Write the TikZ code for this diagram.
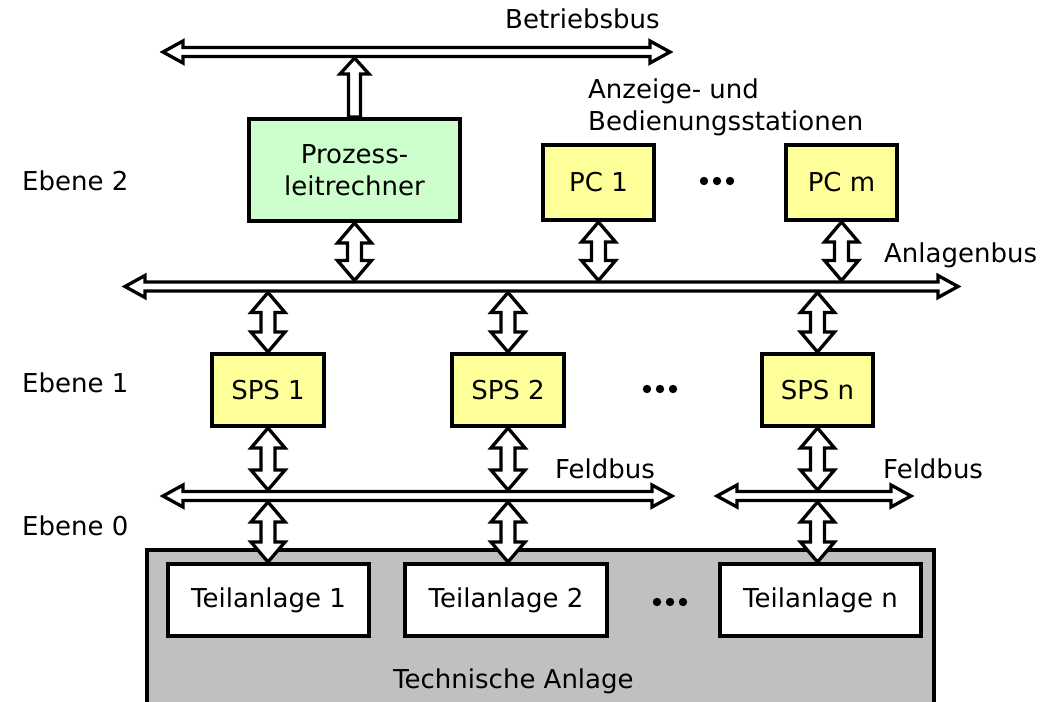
\documentclass[tikz,border=0pt]{standalone}
\usepackage{fontspec}
\setmainfont{DejaVu Sans}
\usetikzlibrary{calc}
\definecolor{plrgreen}{HTML}{CCFFCC}
\definecolor{spsyellow}{HTML}{FFFF99}
\definecolor{anlagegray}{HTML}{C0C0C0}
% hollow bus arrow, heads at both ends
\newcommand{\hbus}[2]{%
  \draw[hollow] let \p1=(#1), \p2=(#2) in
    (\x1,\y1) -- (\x1+20pt,\y1+11pt) -- (\x1+20pt,\y1+4.5pt)
    -- (\x2-20pt,\y1+4.5pt) -- (\x2-20pt,\y1+11pt) -- (\x2,\y1)
    -- (\x2-20pt,\y1-11pt) -- (\x2-20pt,\y1-4.5pt)
    -- (\x1+20pt,\y1-4.5pt) -- (\x1+20pt,\y1-11pt) -- cycle;}
% hollow vertical link, #1 above #2
\newcommand{\dlink}[2]{%
  \draw[hollow] let \p1=(#1), \p2=(#2) in
    (\x1,\y1) -- (\x1+17pt,\y1-20pt) -- (\x1+7pt,\y1-20pt)
    -- (\x1+7pt,\y2+20pt) -- (\x1+17pt,\y2+20pt) -- (\x1,\y2)
    -- (\x1-17pt,\y2+20pt) -- (\x1-7pt,\y2+20pt)
    -- (\x1-7pt,\y1-20pt) -- (\x1-17pt,\y1-20pt) -- cycle;}
% hollow link with one head, from #1 up to #2
\newcommand{\ulink}[2]{%
  \draw[hollow] let \p1=(#1), \p2=(#2) in
    (\x1-6pt,\y1) -- (\x1-6pt,\y2-16pt) -- (\x1-14.5pt,\y2-16pt) -- (\x1,\y2)
    -- (\x1+14.5pt,\y2-16pt) -- (\x1+6pt,\y2-16pt) -- (\x1+6pt,\y1) -- cycle;}
\begin{document}
\begin{tikzpicture}[x=1pt,y=-1pt,line join=miter,
    every node/.style={font=\fontsize{26}{32}\selectfont},
    box/.style={draw,line width=4pt,inner sep=0pt,align=center},
    hollow/.style={draw,fill=white,line width=3.3pt},
    lbl/.style={inner sep=0pt}]
    \useasboundingbox (0,0) rectangle (1056,701);
    % Technische Anlage
    \node[box,fill=anlagegray,anchor=north west,minimum width=787,
      minimum height=170] (anlage) at (145,548) {};
    \node[box,fill=white,minimum width=201,minimum height=72] (ta1) at (268.5,600) {Teilanlage 1};
    \node[box,fill=white,minimum width=202,minimum height=72] (ta2) at (506,600) {Teilanlage 2};
    \node[box,fill=white,minimum width=201,minimum height=72] (tan) at (820.5,600) {Teilanlage n};
    \node[lbl,anchor=base west] (ltechnik) at (393,688) {Technische Anlage};
    % Ebene 1 und 2
    \node[box,fill=plrgreen,minimum width=211,minimum height=102] (plr) at (354.5,170) {Prozess-\\leitrechner};
    \node[box,fill=spsyellow,minimum width=111,minimum height=75] (pc1) at (598.5,182.5) {PC 1};
    \node[box,fill=spsyellow,minimum width=111,minimum height=75] (pcm) at (841.5,182.5) {PC m};
    \node[box,fill=spsyellow,minimum width=111.5,minimum height=72] (sps1) at (268,390) {SPS 1};
    \node[box,fill=spsyellow,minimum width=111.5,minimum height=72] (sps2) at (508,390) {SPS 2};
    \node[box,fill=spsyellow,minimum width=111,minimum height=72] (spsn) at (817.5,390) {SPS n};
    % labels
    \node[lbl,anchor=base west] (lebene2) at (22,190) {Ebene 2};
    \node[lbl,anchor=base west] (lebene1) at (22,392) {Ebene 1};
    \node[lbl,anchor=base west] (lebene0) at (22,535) {Ebene 0};
    \node[lbl,anchor=base west] (lbetrieb) at (505,29) {Betriebsbus};
    \node[lbl,anchor=base west] (lanlagen) at (884,262) {Anlagenbus};
    \node[lbl,anchor=base east] (lfeld1) at (655,478) {Feldbus};
    \node[lbl,anchor=base west] (lfeld2) at (883,478) {Feldbus};
    \node[lbl,anchor=north west,align=left] (lstation) at (588,79) {Anzeige- und\\Bedienungsstationen};
    \foreach \cx/\cy in {717/181,660/389,670/602}
      \foreach \i in {0,1,2}
        \fill (\cx-13+13*\i,\cy) circle (4.2pt);
    % buses
    \coordinate (bb-w) at (163,52);   \coordinate (bb-e) at (670,52);
    \coordinate (bb-bot) at (163,58);
    \coordinate (ab-w) at (125,286.5); \coordinate (ab-e) at (958,286.5);
    \coordinate (ab-top) at (125,280.5); \coordinate (ab-bot) at (125,292.5);
    \coordinate (fb1-w) at (163,496); \coordinate (fb1-e) at (672,496);
    \coordinate (fb2-w) at (717,496); \coordinate (fb2-e) at (911,496);
    \coordinate (fb-top) at (163,490); \coordinate (fb-bot) at (163,502);
    \hbus{bb-w}{bb-e}
    \hbus{ab-w}{ab-e}
    \hbus{fb1-w}{fb1-e}
    \hbus{fb2-w}{fb2-e}
    % links
    \ulink{plr.north}{plr.north |- bb-bot}
    \dlink{plr.south}{plr.south |- ab-top}
    \dlink{pc1.south}{pc1.south |- ab-top}
    \dlink{pcm.south}{pcm.south |- ab-top}
    \foreach \s/\t in {sps1/ta1,sps2/ta2,spsn/tan}{
      \dlink{\s.north |- ab-bot}{\s.north}
      \dlink{\s.south}{\s.south |- fb-top}
      \dlink{\s.south |- fb-bot}{\s.south |- \t.north}
    }
\end{tikzpicture}
\end{document}
